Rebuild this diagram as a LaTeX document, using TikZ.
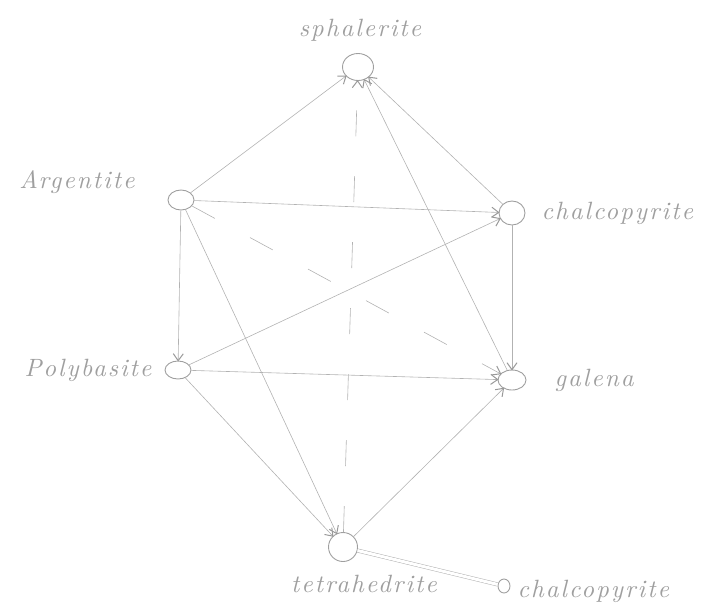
\documentclass[tikz,border=0pt]{standalone}
\usepackage{fontspec}
\newfontfamily\handfont{lmroman10-italic.otf}[LetterSpace=8]
\usepackage{tikz}
\usetikzlibrary{positioning,arrows.meta,shapes.geometric}

\begin{document}
\begin{tikzpicture}[x=1pt, y=-1pt, >={Straight Barb[length=7pt,width=10pt,line width=1pt,color=gray!80]},
    font=\handfont\fontsize{25}{27}\selectfont,
    mineral/.style={ellipse, draw=gray!75, line width=0.9pt, minimum width=26pt, minimum height=20pt, inner sep=0pt},
    lbl/.style={text=gray!75, inner sep=0pt},
    link/.style={->, draw=gray!60, line width=0.6pt, shorten >=-1pt},
    gap/.style={dash pattern=on 26pt off 40pt}]

    \useasboundingbox (0,0) rectangle (710,614);

    % Minerals
    \node[mineral, minimum width=31pt, minimum height=27pt] (sph) at (358,67) {};
    \node[mineral] (arg) at (181,200) {};
    \node[mineral, minimum height=24pt] (chal) at (512,213) {};
    \node[mineral, minimum height=18pt] (poly) at (178,370) {};
    \node[mineral, minimum width=28pt] (gal) at (512,380) {};
    \node[mineral, minimum width=29pt, minimum height=29pt] (tet) at (343,547) {};
    \node[mineral, minimum width=12pt, minimum height=14pt] (chalb) at (504,586) {};

    % Names
    \node[lbl] (sphname) at (360,30) {sphalerite};
    \node[lbl] (argname) at (77,182) {Argentite};
    \node[lbl, right=16pt of chal] (chalname) {chalcopyrite};
    \node[lbl] (polyname) at (88,370) {Polybasite};
    \node[lbl, right=28pt of gal] (galname) {galena};
    \node[lbl] (tetname) at (364,584) {tetrahedrite};
    \node[lbl, right=7pt of chalb, yshift=-5pt] (chalbname) {chalcopyrite};

    % Solid arrows
    \draw[link] (arg) -- (sph);
    \draw[link] (chal) -- (sph);
    \draw[link] (gal) -- (sph);
    \draw[link] (arg) -- (chal);
    \draw[link] (arg) -- (poly);
    \draw[link] (arg) -- (tet);
    \draw[link] (poly) -- (chal);
    \draw[link] (poly) -- (gal);
    \draw[link] (poly) -- (tet);
    \draw[link] (chal) -- (gal);
    \draw[link] (tet) -- (gal);

    % Dashed arrows
    \draw[link, gap] (tet) -- (sph);
    \draw[link, gap] (arg) -- (gal);

    % Double line to the second chalcopyrite
    \draw[draw=gray!60, line width=0.5pt, double=white, double distance=3pt] (tet) -- (chalb);

\end{tikzpicture}
\end{document}
